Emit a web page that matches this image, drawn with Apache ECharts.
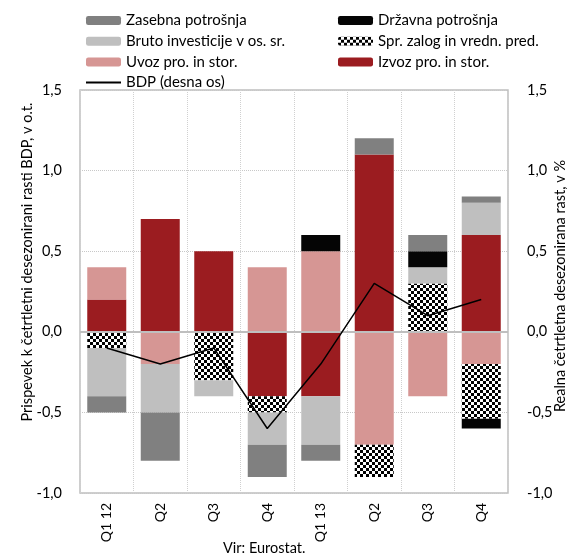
<!DOCTYPE html>
<html>
<head>
<meta charset="utf-8">
<script src="https://cdn.jsdelivr.net/npm/echarts@6/dist/echarts.min.js"></script>
<style>
  html, body { margin: 0; padding: 0; background: #fff; }
  #chart { width: 578px; height: 559px; }
</style>
</head>
<body>
<div id="chart"></div>
<script>
// podatki (odčitani s slike)
var categories = ['Q1 12', 'Q2', 'Q3', 'Q4', 'Q1 13', 'Q2', 'Q3', 'Q4'];
var izvoz   = [0.2, 0.7, 0.5, -0.4, -0.4, 1.1, 0, 0.6];
var uvoz    = [0.2, -0.2, 0, 0.4, 0.5, -0.7, -0.4, -0.2];
var zalog   = [-0.1, 0, -0.3, -0.1, 0, -0.2, 0.3, -0.34];
var bruto   = [-0.3, -0.3, -0.1, -0.2, -0.3, 0, 0.1, 0.2];
var drzavna = [0, 0, 0, 0, 0.1, 0, 0.1, -0.06];
var zasebna = [-0.1, -0.3, 0, -0.2, -0.1, 0.1, 0.1, 0.04];
var bdp     = [-0.1, -0.2, -0.1, -0.6, -0.2, 0.3, 0.1, 0.2];

var FONT = 'Lato';

// vzorec za spremembo zalog (šahovnica)
var tile = document.createElement('canvas');
tile.width = 6;
tile.height = 6;
var ctx = tile.getContext('2d');
ctx.fillStyle = '#fff';
ctx.fillRect(0, 0, 6, 6);
ctx.fillStyle = '#000';
ctx.fillRect(0, 0, 3, 3);
ctx.fillRect(3, 3, 3, 3);

function fmt(v) {
    return v.toFixed(1).replace('.', ',');
}

function bar(name, data, color) {
    return {
        name: name,
        type: 'bar',
        stack: 'prispevki',
        barWidth: 39,
        data: data,
        itemStyle: { color: color }
    };
}

var chart = echarts.init(document.getElementById('chart'));

var series = [
    bar('Izvoz pro. in stor.', izvoz, '#9b1c20'),
    bar('Uvoz pro. in stor.', uvoz, '#d69694'),
    bar('Spr. zalog in vredn. pred.', zalog, { image: tile, repeat: 'repeat' }),
    bar('Bruto investicije v os. sr.', bruto, '#bfbfbf'),
    bar('Državna potrošnja', drzavna, '#050505'),
    bar('Zasebna potrošnja', zasebna, '#808080'),
    {
        name: 'BDP (desna os)',
        type: 'line',
        yAxisIndex: 1,
        data: bdp,
        symbol: 'none',
        z: 5,
        lineStyle: { color: '#000', width: 1.5 },
        itemStyle: { color: '#000' }
    }
];

// ničelna črta
series[0].markLine = {
    silent: true,
    symbol: 'none',
    label: { show: false },
    lineStyle: { color: '#bfbfbf', width: 2, type: 'solid' },
    data: [{ yAxis: 0 }]
};

var legendText = { fontFamily: FONT, fontSize: 15, color: '#000', lineHeight: 15 };

var option = {
    animation: false,
    legend: [
        {
            orient: 'vertical',
            left: 80,
            top: 8,
            itemWidth: 35,
            itemHeight: 9,
            itemGap: 5.7,
            textStyle: legendText,
            data: [
                'Zasebna potrošnja',
                'Bruto investicije v os. sr.',
                'Uvoz pro. in stor.',
                { name: 'BDP (desna os)', itemStyle: { opacity: 0 } }
            ]
        },
        {
            orient: 'vertical',
            left: 333,
            top: 8,
            itemWidth: 35,
            itemHeight: 9,
            itemGap: 5.7,
            textStyle: legendText,
            data: ['Državna potrošnja', 'Spr. zalog in vredn. pred.', 'Izvoz pro. in stor.']
        }
    ],
    grid: {
        left: 80,
        right: 70,
        top: 90,
        bottom: 66,
        show: true,
        borderColor: '#bfbfbf',
        borderWidth: 1.5
    },
    xAxis: {
        type: 'category',
        data: categories,
        axisLine: { show: false },
        axisTick: { show: false },
        splitLine: { show: true, lineStyle: { color: '#d0d0d0', type: 'dotted' } },
        axisLabel: { rotate: 90, margin: 10, fontFamily: FONT, fontSize: 14, color: '#000' }
    },
    yAxis: [
        {
            type: 'value',
            min: -1,
            max: 1.5,
            interval: 0.5,
            axisLine: { show: false },
            axisTick: { show: false },
            splitLine: { lineStyle: { color: '#c8c8c8', type: 'dotted' } },
            axisLabel: { margin: 18, fontFamily: FONT, fontSize: 14.5, color: '#000', formatter: fmt }
        },
        {
            type: 'value',
            min: -1,
            max: 1.5,
            interval: 0.5,
            axisLine: { show: false },
            axisTick: { show: false },
            splitLine: { show: false },
            axisLabel: { margin: 19, fontFamily: FONT, fontSize: 14.5, color: '#000', formatter: fmt }
        }
    ],
    graphic: [
        {
            type: 'text',
            x: 27,
            y: 262,
            rotation: Math.PI / 2,
            style: {
                text: 'Prispevek k četrtletni desezonirani rasti BDP, v o.t.',
                font: '14.5px ' + FONT,
                fill: '#000',
                align: 'center',
                verticalAlign: 'middle'
            }
        },
        {
            type: 'text',
            x: 560,
            y: 286,
            rotation: Math.PI / 2,
            style: {
                text: 'Realna četrtletna desezonirana rast, v %',
                font: '14.5px ' + FONT,
                fill: '#000',
                align: 'center',
                verticalAlign: 'middle'
            }
        },
        {
            type: 'text',
            left: 223,
            top: 541,
            style: {
                text: 'Vir: Eurostat.',
                font: '14.5px ' + FONT,
                fill: '#000'
            }
        }
    ],
    series: series
};

chart.setOption(option);
</script>
</body>
</html>
